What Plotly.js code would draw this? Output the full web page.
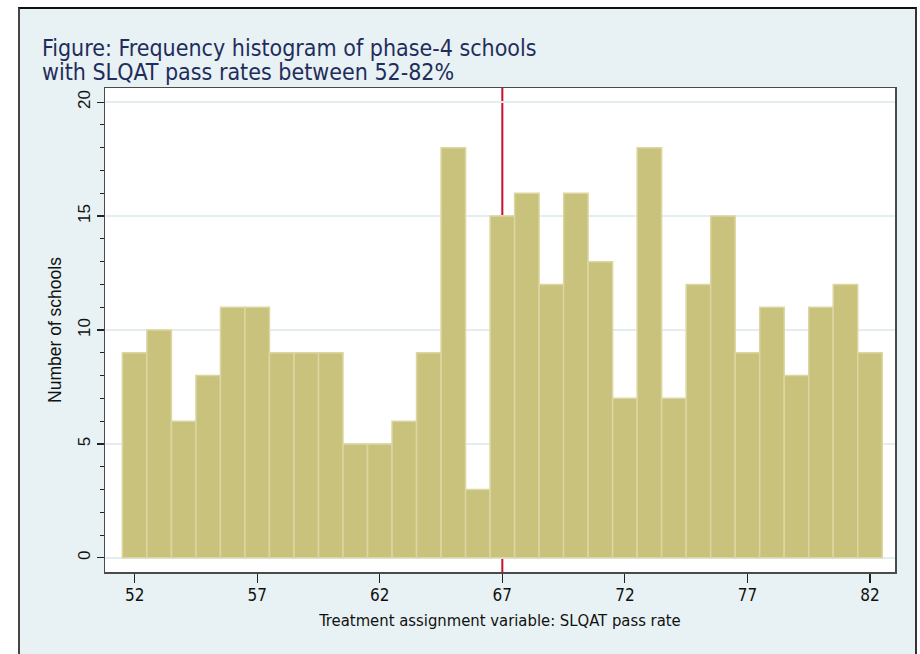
<!DOCTYPE html>
<html>
<head>
<meta charset="utf-8">
<script src="https://cdn.plot.ly/plotly-3.0.1.min.js"></script>
<style>
  html, body { margin: 0; padding: 0; background: #ffffff; width: 920px; height: 654px; overflow: hidden; }
  #frame { position: absolute; left: 18px; top: 7px; width: 895px; height: 647px;
           border-top: 2px solid #111; border-left: 2px solid #444; border-right: 2px solid #333; background: #e8f1f3; }
  #chart { width: 895px; height: 647px; }
</style>
</head>
<body>
<div id="frame"><div id="chart"></div></div>
<script>
// Pass-rate bins (integer centres, width 1)
const passRates = [52,53,54,55,56,57,58,59,60,61,62,63,64,65,66,67,68,69,70,71,72,73,74,75,76,77,78,79,80,81,82];
// Number of schools in each bin
const schoolCounts = [9,10,6,8,11,11,9,9,9,5,5,6,9,18,3,15,16,12,16,13,7,18,7,12,15,9,11,8,11,12,9];
const cutoff = 67;
const xTicks = [52,57,62,67,72,77,82];
const yTicks = [0,5,10,15,20];
const titleLines = ["Figure: Frequency histogram of phase-4 schools", "with SLQAT pass rates between 52-82%"];

const narrow = "'Liberation Sans Narrow', 'Arial Narrow', 'DejaVu Sans Condensed', sans-serif";
const regular = "'Liberation Sans', Arial, sans-serif";

const W = 895, H = 647;
const trace = {
  type: 'bar',
  x: passRates,
  y: schoolCounts,
  width: 1,
  marker: { color: '#c9c27c', line: { color: '#dcd6a2', width: 1.5 } },
  hoverinfo: 'x+y'
};

const layout = {
  width: W, height: H,
  paper_bgcolor: '#e8f1f3',
  plot_bgcolor: '#ffffff',
  margin: { l: 85, r: 20, t: 79, b: 84 },
  showlegend: false,
  bargap: 0,
  xaxis: {
    range: [50.79, 83.02],
    tickmode: 'array', tickvals: xTicks, ticktext: xTicks.map(String),
    ticks: 'outside', ticklen: 9, tickwidth: 1.2, tickcolor: '#222',
    ticklabelstandoff: -2,
    showline: true, mirror: true, linecolor: '#4a4a4a', linewidth: 1.5,
    showgrid: false, zeroline: false,
    tickfont: { family: narrow, size: 17, color: '#111' },
    title: { text: 'Treatment assignment variable: SLQAT pass rate', font: { family: narrow, size: 16.5, color: '#111' }, standoff: 10 }
  },
  yaxis: {
    range: [-0.62, 20.62],
    tickmode: 'array', tickvals: yTicks, ticktext: yTicks.map(String),
    tickangle: -90,
    ticks: 'outside', ticklen: 7, tickwidth: 1.2, tickcolor: '#222',
    minor: { dtick: 1, tick0: 0, ticks: 'outside', ticklen: 4, tickwidth: 1, tickcolor: '#222', showgrid: false },
    showline: true, mirror: true, linecolor: '#4a4a4a', linewidth: 1.5,
    showgrid: true, gridcolor: '#e4eef1', gridwidth: 2, zeroline: false,
    tickfont: { family: regular, size: 17, color: '#111' },
    title: { text: 'Number of schools', font: { family: regular, size: 17.5, color: '#111' }, standoff: 8 }
  },
  shapes: [{
    type: 'line', xref: 'x', yref: 'paper', x0: cutoff, x1: cutoff, y0: 0, y1: 1,
    line: { color: '#c8102e', width: 2 }, layer: 'below'
  }],
  annotations: titleLines.map((t, i) => ({
    text: t, xref: 'paper', yref: 'paper',
    x: (40 - 20 - 85) / (W - 105), xanchor: 'left',
    y: 1 + ((88 - 9) - (33 + i * 24 - 9)) / (H - 79 - 84), yanchor: 'top',
    showarrow: false,
    font: { family: narrow, size: 23, color: '#1f2d5c' }
  }))
};

Plotly.newPlot('chart', [trace], layout, { displayModeBar: false, staticPlot: true });
</script>
</body>
</html>
